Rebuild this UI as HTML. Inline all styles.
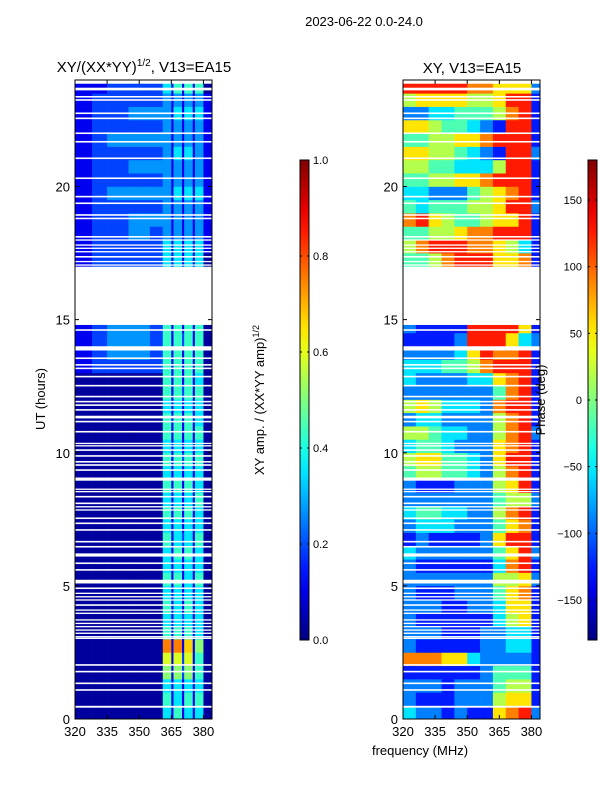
<!DOCTYPE html>
<html><head><meta charset="utf-8"><style>
body{margin:0;background:#fff;}
svg text{font-family:"Liberation Sans",sans-serif;fill:#000;}
</style></head><body>
<svg id="fig" width="600" height="800" viewBox="0 0 600 800">
<text x="364" y="26" font-size="13" text-anchor="middle">2023-06-22 0.0-24.0</text>
<text x="144" y="72" font-size="15" text-anchor="middle">XY/(XX*YY)<tspan font-size="10" dy="-6">1/2</tspan><tspan dy="6">, V13=EA15</tspan></text>
<text x="472" y="73" font-size="15" text-anchor="middle">XY, V13=EA15</text>
<text transform="translate(45,399) rotate(-90)" font-size="13" text-anchor="middle">UT (hours)</text>
<text x="420" y="755" font-size="13" text-anchor="middle">frequency (MHz)</text>
<text transform="translate(264,400) rotate(-90)" font-size="13" text-anchor="middle">XY amp. / (XX*YY amp)<tspan font-size="9" dy="-5">1/2</tspan></text>
<g id="g"></g>
<text transform="translate(545,400) rotate(-90)" font-size="13" text-anchor="middle">Phase (deg)</text>
</svg>
<script>
// ---- data ----
const hours = [0,0.5,1,1.5,2,2.5,3,3.5,4,4.5,5,5.5,6,6.5,7,7.5,8,8.5,9,9.5,10,10.5,11,11.5,12,12.5,13,13.5,14,14.5,15,15.5,16,16.5,17,17.5,18,18.5,19,19.5,20,20.5,21,21.5,22,22.5,23,23.5];
const ampFreqEdges = [320,328,335,345,355,361,365,366,370,371,375,376,380,384];
const ampRows = ["0000041514140","0000051415150","0000041414140","0000061626150","0000071727150","0000091918160","0000051515140","0000041424140","0000051415140","0000041414140","0000051514150","0000041414140","0000041515140","0000051424150","0000041414140","0000051515140","0000041414150","0000051515140","0000041414140","0000051525150","0000041414140","0000051515150","0000051515140","0000041414140","0000051525150","0000051515140","1222251515150","1233251515150","1233251525150","1233251515150","","","","","1222241414140","1222241414141","1223231313131","1223331313131","1222231313131","1233331414141","1222231313131","1223331313131","1222231414131","1233331313131","1222231313131","1223331414141","1222231313131","1122241515150"];
const phaseFreqEdges = [320,326,332,338,344,350,356,362,368,374,380,384];
const phaseRows = ["32212116782","21112225661","22212224551","11111124441","77766322221","21111122331","22211122331","21111113561","22211223661","21112224671","22222225562","21111113781","32222224682","12111126881","23332224671","34433225781","22222224552","21112225681","45544325781","56644326881","34432226781","55433225782","23322225781","56533327881","22222224781","32222336781","33344578881","22223687781","11112888632","21111888861","","","","","44578886671","57888776531","44556778881","78654456681","43444556882","33222456781","44556678881","55443335881","66554321882","44556678881","66544321881","22334445781","56666556881","88888776662"];
const gapCenters = [0.46,1.09,1.34,1.78,2.03,3.03,3.09,3.22,3.34,3.47,3.59,3.72,3.97,4.09,4.28,4.47,4.59,4.72,4.91,5.16,5.60,5.85,6.16,6.47,6.66,7.10,7.35,7.54,7.85,7.97,8.10,8.35,8.54,8.63,9.01,9.35,9.54,9.66,9.88,10.10,10.26,10.35,10.79,11.17,11.34,11.61,11.79,11.92,12.11,12.52,12.86,13.17,13.30,13.55,13.92,14.61,15.80,16.93,17.05,17.18,17.36,17.55,17.68,17.80,17.99,18.11,18.80,18.93,19.37,19.62,20.31,21.06,21.68,22.0,22.56,22.75,23.25,23.37,23.66,23.93];
const gapWidths = [0.07,0.06,0.06,0.06,0.06,0.05,0.05,0.05,0.05,0.05,0.05,0.05,0.05,0.05,0.06,0.05,0.05,0.05,0.06,0.14,0.06,0.06,0.12,0.06,0.06,0.06,0.06,0.06,0.05,0.05,0.06,0.06,0.05,0.05,0.12,0.06,0.06,0.06,0.06,0.06,0.05,0.05,0.06,0.06,0.1,0.06,0.06,0.06,0.06,0.06,0.06,0.06,0.06,0.06,0.16,0.06,2.0,0.06,0.05,0.05,0.06,0.05,0.05,0.05,0.05,0.06,0.06,0.06,0.06,0.06,0.06,0.06,0.06,0.06,0.06,0.06,0.06,0.06,0.1,0.14];
const xTicks = [320,335,350,365,380];
const yTicks = [0,5,10,15,20];
const ampTicks = [0.0,0.2,0.4,0.6,0.8,1.0];
const phaseTicks = [-150,-100,-50,0,50,100,150];

// ---- drawing ----
const NS="http://www.w3.org/2000/svg";
const G=document.getElementById('g');
function mk(tag,attrs,parent){const e=document.createElementNS(NS,tag);for(const k in attrs)e.setAttribute(k,attrs[k]);(parent||G).appendChild(e);return e;}
function cl(v){return Math.max(0,Math.min(1,v));}
function jet(v){v=cl(v);const r=cl(1.5-Math.abs(4*v-3)),g=cl(1.5-Math.abs(4*v-2)),b=cl(1.5-Math.abs(4*v-1));return `rgb(${Math.round(r*255)},${Math.round(g*255)},${Math.round(b*255)})`;}
const T=80,B=719;
function yS(h){return B-(h/24)*(B-T);}
function panel(x0,x1,edges,rows,valFn,name){
  const xS=f=>x0+(f-320)/64*(x1-x0);
  const grp=mk('g',{});
  
  
  rows.forEach((row,i)=>{
    for(let j=0;j<row.length;j++){
      const r=mk('rect',{x:xS(edges[j]),y:yS(hours[i]+0.5),width:xS(edges[j+1])-xS(edges[j])+0.3,height:yS(hours[i])-yS(hours[i]+0.5)+0.3,fill:jet(valFn(+row[j]))},grp);
      
      
    }
  });
  gapCenters.forEach((c,k)=>{
    const r=mk('rect',{x:x0,y:yS(c+gapWidths[k]/2),width:x1-x0,height:yS(c-gapWidths[k]/2)-yS(c+gapWidths[k]/2),fill:'#fff'},grp);
    
    
  });
  const fr=mk('rect',{x:x0,y:T,width:x1-x0,height:B-T,fill:'none',stroke:'#000','stroke-width':1});
  
  
  xTicks.forEach(t=>{const x=xS(t);
    mk('line',{x1:x,x2:x,y1:B,y2:B-4,stroke:'#000'});mk('line',{x1:x,x2:x,y1:T,y2:T+4,stroke:'#000'});
    const tx=mk('text',{x:x,y:B+17,'font-size':13,'text-anchor':'middle'});tx.textContent=t;
    
    });
  yTicks.forEach(t=>{const y=yS(t);
    mk('line',{x1:x0,x2:x0+4,y1:y,y2:y,stroke:'#000'});mk('line',{x1:x1,x2:x1-4,y1:y,y2:y,stroke:'#000'});
    const tx=mk('text',{x:x0-5,y:y+5,'font-size':13,'text-anchor':'end'});tx.textContent=t;
    
    });
}
panel(75,212,ampFreqEdges,ampRows,d=>d*0.08+0.03,'amplitude');
panel(403,540,phaseFreqEdges,phaseRows,d=>(d+0.5)/10,'phase');

// colorbars
const defs=mk('defs',{});
const lg=mk('linearGradient',{id:'jetg',x1:0,y1:1,x2:0,y2:0},defs);
for(let i=0;i<=20;i++)mk('stop',{offset:i/20,'stop-color':jet(i/20)},lg);
function cbar(x,ticks,lo,hi,name,left){
  const r=mk('rect',{x:x,y:160,width:9,height:480,fill:'url(#jetg)',stroke:'#000','stroke-width':1});
  
  
  ticks.forEach(t=>{const y=640-(t-lo)/(hi-lo)*480;
    mk('line',{x1:x,x2:x+2,y1:y,y2:y,stroke:'#000'});mk('line',{x1:x+9,x2:x+7,y1:y,y2:y,stroke:'#000'});
    const tx=left?mk('text',{x:x-6,y:y+4,'font-size':11,'text-anchor':'end'}):mk('text',{x:x+13,y:y+4,'font-size':11});
    tx.textContent=(lo===0?t.toFixed(1):String(t).replace('-','\u2212'));
    
    });
}
cbar(300,ampTicks,0,1,'amplitude-colorbar',false);
cbar(588,phaseTicks,-180,180,'phase-colorbar',true);
</script>
</body></html>
